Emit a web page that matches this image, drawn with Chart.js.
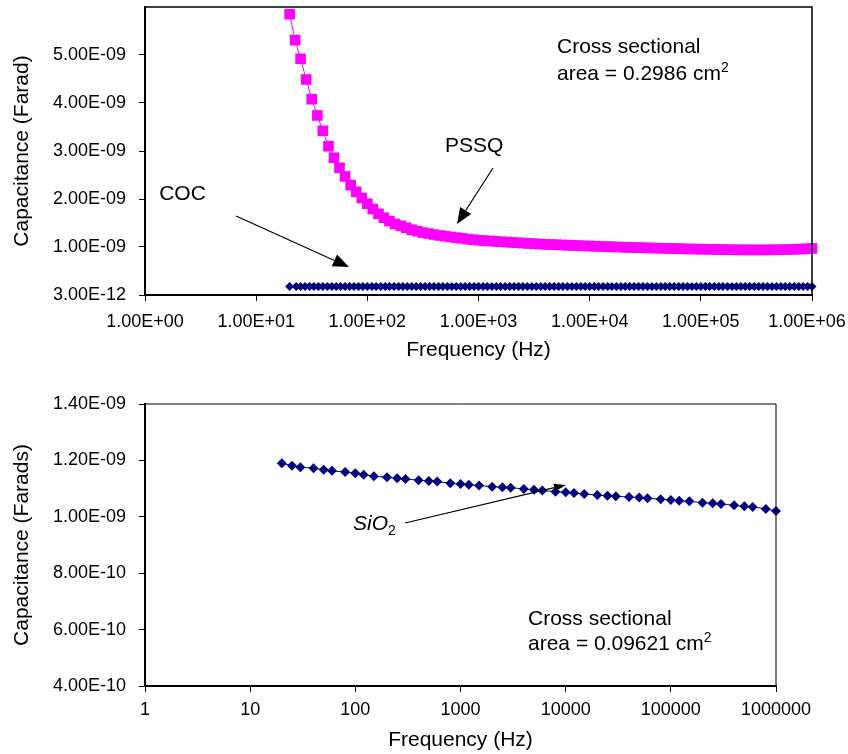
<!DOCTYPE html>
<html>
<head>
<meta charset="utf-8">
<script src="https://cdn.jsdelivr.net/npm/chart.js@4.4.0/dist/chart.umd.min.js"></script>
<style>
  html, body { margin: 0; padding: 0; background: #fff; }
  #wrap { position: relative; width: 848px; height: 754px; }
  #top-chart { position: absolute; left: 0; top: 0; }
  #bottom-chart { position: absolute; left: 0; top: 380px; }
</style>
</head>
<body>
<div id="wrap">
  <canvas id="top-chart" width="848" height="370"></canvas>
  <canvas id="bottom-chart" width="848" height="374"></canvas>
</div>
<script>
// --- data: top chart (PSSQ and COC films) ---
const pssqFreq = [
  20, 22.4, 25.1, 28.2, 31.6, 35.5, 39.8, 44.7, 50.1, 56.2, 63.1, 70.8, 79.4, 89.1,
  100, 112, 126, 141, 158, 178, 200, 224, 251, 282, 316, 355, 398, 447, 501, 562, 631, 708, 794, 891,
  1000, 1120, 1260, 1410, 1580, 1780, 2000, 2240, 2510, 2820, 3160, 3550, 3980, 4470, 5010, 5620, 6310, 7080, 7940, 8910,
  10000, 11200, 12600, 14100, 15800, 17800, 20000, 22400, 25100, 28200, 31600, 35500, 39800, 44700, 50100, 56200, 63100, 70800, 79400, 89100,
  100000, 112000, 126000, 141000, 158000, 178000, 200000, 224000, 251000, 282000, 316000, 355000, 398000, 447000, 501000, 562000, 631000, 708000, 794000, 891000,
  1000000
];
const pssqCap = [
  5.85e-9, 5.31e-9, 4.92e-9, 4.49e-9, 4.08e-9, 3.74e-9, 3.42e-9, 3.10e-9, 2.86e-9, 2.65e-9, 2.47e-9, 2.29e-9, 2.15e-9, 2.02e-9,
  1.90e-9, 1.79e-9, 1.69e-9, 1.61e-9, 1.54e-9, 1.48e-9, 1.44e-9, 1.40e-9, 1.36e-9, 1.33e-9, 1.30e-9, 1.28e-9, 1.26e-9, 1.24e-9, 1.225e-9, 1.21e-9, 1.195e-9, 1.18e-9, 1.165e-9, 1.152e-9,
  1.142e-9, 1.133e-9, 1.125e-9, 1.117e-9, 1.110e-9, 1.103e-9, 1.096e-9, 1.089e-9, 1.080e-9, 1.074e-9, 1.068e-9, 1.062e-9, 1.057e-9, 1.052e-9, 1.047e-9, 1.042e-9, 1.037e-9, 1.032e-9, 1.028e-9, 1.024e-9,
  1.020e-9, 1.016e-9, 1.012e-9, 1.008e-9, 1.004e-9, 1.000e-9, 0.996e-9, 0.992e-9, 0.989e-9, 0.986e-9, 0.983e-9, 0.980e-9, 0.977e-9, 0.974e-9, 0.971e-9, 0.968e-9, 0.965e-9, 0.962e-9, 0.959e-9, 0.957e-9,
  0.955e-9, 0.952e-9, 0.950e-9, 0.948e-9, 0.946e-9, 0.944e-9, 0.942e-9, 0.941e-9, 0.940e-9, 0.939e-9, 0.939e-9, 0.939e-9, 0.940e-9, 0.941e-9, 0.943e-9, 0.945e-9, 0.948e-9, 0.952e-9, 0.957e-9, 0.963e-9,
  0.970e-9
];
const cocFreq = [
  20, 22.9, 25.1, 27.5, 30.2, 33.1, 36.3, 39.8, 43.7, 47.9, 52.5, 57.5, 63.1, 69.2, 75.9, 83.2, 91.2,
  100, 110, 120, 132, 145, 158, 174, 191, 209, 229, 251, 275, 302, 331, 363, 398, 437, 479, 525, 575, 631, 692, 759, 832, 912,
  1000, 1100, 1200, 1320, 1450, 1580, 1740, 1910, 2090, 2290, 2510, 2750, 3020, 3310, 3630, 3980, 4370, 4790, 5250, 5750, 6310, 6920, 7590, 8320, 9120,
  10000, 11000, 12000, 13200, 14500, 15800, 17400, 19100, 20900, 22900, 25100, 27500, 30200, 33100, 36300, 39800, 43700, 47900, 52500, 57500, 63100, 69200, 75900, 83200, 91200,
  100000, 110000, 120000, 132000, 145000, 158000, 174000, 191000, 209000, 229000, 251000, 275000, 302000, 331000, 363000, 398000, 437000, 479000, 525000, 575000, 631000, 692000, 759000, 832000, 912000,
  1000000
];
const cocCap = [
  1.79e-10, 1.79e-10, 1.79e-10, 1.78e-10, 1.78e-10, 1.78e-10, 1.78e-10, 1.78e-10, 1.78e-10, 1.78e-10, 1.77e-10, 1.77e-10, 1.77e-10, 1.77e-10, 1.77e-10, 1.77e-10, 1.77e-10,
  1.77e-10, 1.77e-10, 1.77e-10, 1.77e-10, 1.77e-10, 1.77e-10, 1.77e-10, 1.77e-10, 1.77e-10, 1.77e-10, 1.76e-10, 1.76e-10, 1.76e-10, 1.76e-10, 1.76e-10, 1.76e-10, 1.76e-10, 1.76e-10, 1.76e-10, 1.76e-10, 1.76e-10, 1.76e-10, 1.76e-10, 1.76e-10, 1.76e-10,
  1.76e-10, 1.76e-10, 1.76e-10, 1.76e-10, 1.76e-10, 1.76e-10, 1.76e-10, 1.76e-10, 1.76e-10, 1.76e-10, 1.76e-10, 1.76e-10, 1.76e-10, 1.76e-10, 1.76e-10, 1.76e-10, 1.76e-10, 1.76e-10, 1.76e-10, 1.76e-10, 1.76e-10, 1.76e-10, 1.76e-10, 1.76e-10, 1.76e-10,
  1.76e-10, 1.76e-10, 1.76e-10, 1.76e-10, 1.76e-10, 1.76e-10, 1.76e-10, 1.76e-10, 1.76e-10, 1.76e-10, 1.75e-10, 1.75e-10, 1.75e-10, 1.75e-10, 1.75e-10, 1.75e-10, 1.75e-10, 1.75e-10, 1.75e-10, 1.75e-10, 1.75e-10, 1.75e-10, 1.75e-10, 1.75e-10, 1.75e-10,
  1.75e-10, 1.75e-10, 1.75e-10, 1.75e-10, 1.75e-10, 1.75e-10, 1.75e-10, 1.75e-10, 1.75e-10, 1.75e-10, 1.75e-10, 1.75e-10, 1.75e-10, 1.75e-10, 1.75e-10, 1.75e-10, 1.75e-10, 1.75e-10, 1.75e-10, 1.75e-10, 1.75e-10, 1.75e-10, 1.75e-10, 1.75e-10, 1.75e-10,
  1.75e-10
];
const topXTicks = [1, 10, 100, 1000, 10000, 100000, 1000000];
// trailing spaces pull the last centred label back inside the page, as in the original
const topXLabels = ['1.00E+00', '1.00E+01', '1.00E+02', '1.00E+03', '1.00E+04', '1.00E+05', '1.00E+06  '];
const topYTicks = [0, 1e-9, 2e-9, 3e-9, 4e-9, 5e-9];
const topYLabels = ['3.00E-12', '1.00E-09', '2.00E-09', '3.00E-09', '4.00E-09', '5.00E-09'];

// --- data: bottom chart (SiO2) ---
const sioFreq = [
  20, 25, 30, 40, 50, 60, 80,
  100, 120, 150, 200, 250, 300, 400, 500, 600, 800,
  1000, 1200, 1500, 2000, 2500, 3000, 4000, 5000, 6000, 8000,
  10000, 12000, 15000, 20000, 25000, 30000, 40000, 50000, 60000, 80000,
  100000, 120000, 150000, 200000, 250000, 300000, 400000, 500000, 600000, 800000,
  1000000
];
const sioCap = [
  1.190e-9, 1.181e-9, 1.176e-9, 1.172e-9, 1.167e-9, 1.163e-9, 1.159e-9,
  1.154e-9, 1.149e-9, 1.144e-9, 1.140e-9, 1.137e-9, 1.134e-9, 1.130e-9, 1.127e-9, 1.125e-9, 1.119e-9,
  1.116e-9, 1.114e-9, 1.111e-9, 1.107e-9, 1.105e-9, 1.103e-9, 1.099e-9, 1.096e-9, 1.093e-9, 1.089e-9,
  1.087e-9, 1.084e-9, 1.081e-9, 1.077e-9, 1.075e-9, 1.073e-9, 1.070e-9, 1.068e-9, 1.066e-9, 1.062e-9,
  1.060e-9, 1.057e-9, 1.055e-9, 1.050e-9, 1.048e-9, 1.045e-9, 1.041e-9, 1.037e-9, 1.035e-9, 1.028e-9,
  1.021e-9
];
const botXTicks = [1, 10, 100, 1000, 10000, 100000, 1000000];
const botXLabels = ['1', '10', '100', '1000', '10000', '100000', '1000000'];
const botYTicks = [4e-10, 6e-10, 8e-10, 1e-9, 1.2e-9, 1.4e-9];
const botYLabels = ['4.00E-10', '6.00E-10', '8.00E-10', '1.00E-09', '1.20E-09', '1.40E-09'];

const FONT = '"Liberation Sans", Arial, Helvetica, sans-serif';
Chart.defaults.font.family = FONT;
Chart.defaults.color = '#000';

const toPoints = (xs, ys) => xs.map((x, i) => ({ x: x, y: ys[i] }));

// frame, arrows and text labels (anchored in data coordinates)
const notesPlugin = {
  id: 'notes',
  afterDraw(chart, args, opts) {
    const ctx = chart.ctx;
    const sx = chart.scales.x, sy = chart.scales.y;
    const a = chart.chartArea;
    ctx.save();
    ctx.strokeStyle = '#000';
    ctx.lineWidth = opts.frameWidth;
    ctx.beginPath();
    ctx.moveTo(a.left, a.top);
    ctx.lineTo(a.right, a.top);
    ctx.lineTo(a.right, a.bottom);
    ctx.stroke();

    ctx.fillStyle = '#000';
    ctx.lineWidth = 1.2;
    (opts.arrows || []).forEach(ar => {
      const x1 = sx.getPixelForValue(ar.from[0]), y1 = sy.getPixelForValue(ar.from[1]);
      const x2 = sx.getPixelForValue(ar.to[0]), y2 = sy.getPixelForValue(ar.to[1]);
      const ang = Math.atan2(y2 - y1, x2 - x1);
      const bx = x2 - ar.head * Math.cos(ang), by = y2 - ar.head * Math.sin(ang);
      ctx.beginPath();
      ctx.moveTo(x1, y1);
      ctx.lineTo(bx, by);
      ctx.stroke();
      ctx.beginPath();
      ctx.moveTo(x2, y2);
      ctx.lineTo(bx + ar.half * Math.sin(ang), by - ar.half * Math.cos(ang));
      ctx.lineTo(bx - ar.half * Math.sin(ang), by + ar.half * Math.cos(ang));
      ctx.closePath();
      ctx.fill();
    });

    ctx.textBaseline = 'alphabetic';
    ctx.textAlign = 'left';
    (opts.texts || []).forEach(t => {
      let x = sx.getPixelForValue(t.at[0]);
      const y = sy.getPixelForValue(t.at[1]);
      t.parts.forEach(p => {
        ctx.font = (p.italic ? 'italic ' : '') + p.size + 'px ' + FONT;
        ctx.fillText(p.text, x, y + (p.dy || 0));
        x += ctx.measureText(p.text).width + (p.gap || 0);
      });
    });
    ctx.restore();
  }
};

// fixed axis boxes, no automatic label overhang padding
function fixBox(s, w, h) {
  if (w !== null) s.width = w;
  if (h !== null) s.height = h;
  s.paddingLeft = 0;
  s.paddingRight = 0;
  s.paddingTop = 0;
  s.paddingBottom = 0;
}

function axisX(ticks, labels, height, labelPad, titlePad) {
  return {
    type: 'logarithmic',
    min: 1,
    max: 1000000,
    afterBuildTicks: s => { s.ticks = ticks.map(v => ({ value: v })); },
    afterFit: s => fixBox(s, null, height),
    ticks: {
      autoSkip: false, maxRotation: 0, padding: labelPad,
      font: { size: 18 },
      callback: (v, i) => labels[i]
    },
    grid: { drawOnChartArea: false, drawTicks: true, tickLength: 6, color: '#000' },
    border: { color: '#000', width: 2 },
    title: { display: true, text: 'Frequency (Hz)', font: { size: 21 }, padding: { top: 0, bottom: titlePad } }
  };
}

function axisY(min, max, ticks, labels, title, titlePad) {
  return {
    type: 'linear',
    min: min,
    max: max,
    afterBuildTicks: s => { s.ticks = ticks.map(v => ({ value: v })); },
    afterFit: s => fixBox(s, 145, null),
    ticks: { padding: 13, font: { size: 18 }, callback: (v, i) => labels[i] },
    grid: { drawOnChartArea: false, drawTicks: true, tickLength: 6, color: '#000' },
    border: { color: '#000', width: 2 },
    title: { display: true, text: title, font: { size: 21 }, padding: { top: titlePad, bottom: 0 } }
  };
}

// --- top chart ---
new Chart(document.getElementById('top-chart'), {
  type: 'scatter',
  data: {
    datasets: [
      {
        label: 'PSSQ',
        data: toPoints(pssqFreq, pssqCap),
        showLine: true,
        borderColor: '#FF00FF',
        borderWidth: 1,
        backgroundColor: '#FF00FF',
        pointStyle: 'rect',
        pointRadius: 7.5,
        pointBorderWidth: 0,
        clip: false
      },
      {
        label: 'COC',
        data: toPoints(cocFreq, cocCap),
        showLine: true,
        borderColor: '#000080',
        borderWidth: 1,
        backgroundColor: '#000080',
        pointStyle: 'rectRot',
        pointRadius: 4.5,
        pointBorderWidth: 0,
        clip: false
      }
    ]
  },
  options: {
    responsive: false,
    animation: false,
    events: [],
    layout: { autoPadding: false, padding: { left: 0, right: 36, top: 7, bottom: 0 } },
    plugins: {
      legend: { display: false },
      tooltip: { enabled: false },
      notes: {
        frameWidth: 1.5,
        arrows: [
          { from: [6.59, 1.646e-9], to: [68.4, 0.583e-9], head: 16, half: 6.5 },
          { from: [1350, 2.646e-9], to: [641, 1.479e-9], head: 16, half: 6.5 }
        ],
        texts: [
          { at: [5080, 5.05e-9], parts: [{ text: 'Cross sectional', size: 21 }] },
          { at: [5080, 4.48e-9], parts: [{ text: 'area = 0.2986 cm', size: 21 }, { text: '2', size: 14, dy: -8 }] },
          { at: [1.34, 1.98e-9], parts: [{ text: 'COC', size: 21 }] },
          { at: [500, 2.98e-9], parts: [{ text: 'PSSQ', size: 21 }] }
        ]
      }
    },
    scales: {
      x: axisX(topXTicks, topXLabels, 75, 10, 7),
      y: axisY(0, 6e-9, topYTicks, topYLabels, 'Capacitance (Farad)', 10)
    }
  },
  plugins: [notesPlugin]
});

// --- bottom chart ---
new Chart(document.getElementById('bottom-chart'), {
  type: 'scatter',
  data: {
    datasets: [
      {
        label: 'SiO2',
        data: toPoints(sioFreq, sioCap),
        showLine: true,
        borderColor: '#000080',
        borderWidth: 1,
        backgroundColor: '#000080',
        pointStyle: 'rectRot',
        pointRadius: 5,
        pointBorderWidth: 0,
        clip: false
      }
    ]
  },
  options: {
    responsive: false,
    animation: false,
    events: [],
    layout: { autoPadding: false, padding: { left: 0, right: 72, top: 24, bottom: 0 } },
    plugins: {
      legend: { display: false },
      tooltip: { enabled: false },
      notes: {
        frameWidth: 1,
        arrows: [
          { from: [297, 0.978e-9], to: [10070, 1.113e-9], head: 12, half: 4 }
        ],
        texts: [
          { at: [4385, 0.616e-9], parts: [{ text: 'Cross sectional', size: 21 }] },
          { at: [4385, 0.528e-9], parts: [{ text: 'area = 0.09621 cm', size: 21 }, { text: '2', size: 14, dy: -8 }] },
          { at: [95.1, 0.953e-9], parts: [{ text: 'SiO', size: 21, italic: true }, { text: '2', size: 14, dy: 5 }] }
        ]
      }
    },
    scales: {
      x: axisX(botXTicks, botXLabels, 68, 7, 1.5),
      y: axisY(4e-10, 1.4e-9, botYTicks, botYLabels, 'Capacitance (Farads)', 9.5)
    }
  },
  plugins: [notesPlugin]
});
</script>
</body>
</html>
